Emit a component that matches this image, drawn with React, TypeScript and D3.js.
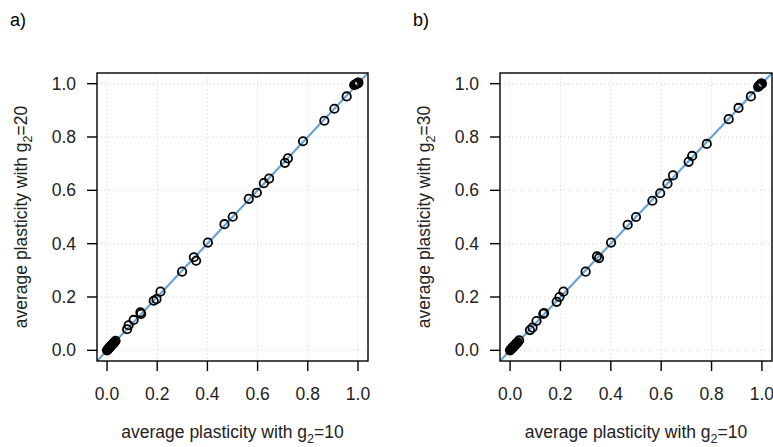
import React from "react";
import * as d3 from "d3";

const ticks = [0, 0.2, 0.4, 0.6, 0.8, 1.0];
const tickLabels = ["0.0", "0.2", "0.4", "0.6", "0.8", "1.0"];

// Panel a: x = avg plasticity g2=10, y = avg plasticity g2=20
const aX = [0, 0.002, 0.004, 0.006, 0.008, 0.01, 0.012, 0.014, 0.017, 0.02, 0.023, 0.026, 0.03, 0.034,
  0.08, 0.086, 0.106, 0.133, 0.136, 0.186, 0.197, 0.213, 0.299, 0.346, 0.355, 0.402, 0.468, 0.501,
  0.565, 0.597, 0.625, 0.646, 0.709, 0.721, 0.781, 0.866, 0.906, 0.955,
  0.985, 0.99, 0.993, 0.996, 0.998, 1.0, 1.002];
const aY = [0, 0.002, 0.004, 0.006, 0.009, 0.011, 0.013, 0.015, 0.018, 0.021, 0.024, 0.027, 0.031, 0.036,
  0.079, 0.094, 0.114, 0.142, 0.137, 0.186, 0.192, 0.22, 0.295, 0.349, 0.336, 0.404, 0.473, 0.501,
  0.568, 0.591, 0.627, 0.644, 0.703, 0.72, 0.784, 0.861, 0.906, 0.952,
  0.995, 0.997, 0.998, 1.0, 1.001, 1.003, 1.004];

// Panel b: x = avg plasticity g2=10, y = avg plasticity g2=30
const bX = [0, 0.002, 0.004, 0.006, 0.008, 0.01, 0.012, 0.014, 0.017, 0.02, 0.023, 0.026, 0.03, 0.036,
  0.079, 0.089, 0.105, 0.132, 0.135, 0.185, 0.196, 0.212, 0.3, 0.345, 0.353, 0.401, 0.467, 0.5,
  0.565, 0.596, 0.625, 0.647, 0.709, 0.723, 0.781, 0.868, 0.907, 0.956,
  0.985, 0.988, 0.992, 0.995, 0.998, 1.0];
const bY = [0, 0.002, 0.004, 0.006, 0.008, 0.01, 0.012, 0.014, 0.017, 0.02, 0.023, 0.026, 0.03, 0.037,
  0.076, 0.085, 0.11, 0.137, 0.14, 0.182, 0.2, 0.22, 0.295, 0.352, 0.346, 0.404, 0.471, 0.5,
  0.561, 0.589, 0.625, 0.656, 0.707, 0.729, 0.774, 0.867, 0.909, 0.952,
  0.988, 0.992, 0.995, 0.998, 1.0, 1.0];

const FONT = "'Liberation Sans', Arial, Helvetica, sans-serif";

type PanelProps = {
  left: number; right: number; top: number; bottom: number;
  xs: number[]; ys: number[]; letter: string; letterX: number; yLabelN: string; yTitleX: number;
  id: string;
};

function Panel({ left, right, top, bottom, xs, ys, letter, letterX, yLabelN, yTitleX, id }: PanelProps) {
  const x = d3.scaleLinear().domain([-0.04, 1.04]).range([left, right]);
  const y = d3.scaleLinear().domain([-0.04, 1.04]).range([bottom, top]);
  const line = d3.line<number>().x((d) => x(d)).y((d) => y(d));
  const tickLen = 10;
  const cx = (left + right) / 2;
  const cy = (top + bottom) / 2;
  return (
    <g>
      <defs>
        <clipPath id={id}>
          <rect x={left} y={top} width={right - left} height={bottom - top} />
        </clipPath>
      </defs>
      <text x={letterX} y={26} fontSize={18} fontFamily={FONT}>{letter}</text>
      {/* grid */}
      {ticks.map((t, i) => (
        <g key={"g" + i}>
          <line x1={x(t)} x2={x(t)} y1={top} y2={bottom} stroke="#d3d3d3" strokeWidth={1} strokeDasharray="1,3" />
          <line x1={left} x2={right} y1={y(t)} y2={y(t)} stroke="#d3d3d3" strokeWidth={1} strokeDasharray="1,3" />
        </g>
      ))}
      {/* diagonal */}
      <path d={line([-0.04, 1.04]) || ""} stroke="#68a4d2" strokeWidth={2.2} fill="none" clipPath={`url(#${id})`} />
      {/* points */}
      {xs.map((v, i) => (
        <circle key={"p" + i} cx={x(v)} cy={y(ys[i])} r={4.2} fill="none" stroke="#000" strokeWidth={1.8} />
      ))}
      {/* box */}
      <rect x={left} y={top} width={right - left} height={bottom - top} fill="none" stroke="#000" strokeWidth={1.4} />
      {/* x axis */}
      {ticks.map((t, i) => (
        <g key={"xt" + i}>
          <line x1={x(t)} x2={x(t)} y1={bottom} y2={bottom + tickLen} stroke="#000" strokeWidth={1.4} />
          <text x={x(t)} y={400} textAnchor="middle" fontSize={17.5} fontFamily={FONT} fill="#222">{tickLabels[i]}</text>
        </g>
      ))}
      {/* y axis */}
      {ticks.map((t, i) => (
        <g key={"yt" + i}>
          <line x1={left - tickLen} x2={left} y1={y(t)} y2={y(t)} stroke="#000" strokeWidth={1.4} />
          <text x={left - 21} y={y(t)} dy="0.35em" textAnchor="end" fontSize={17.5} fontFamily={FONT} fill="#222">{tickLabels[i]}</text>
        </g>
      ))}
      <text x={cx} y={438} textAnchor="middle" fontSize={17.5} fontFamily={FONT} fill="#222">
        average plasticity with g<tspan fontSize={12.5} dy={5}>2</tspan><tspan dy={-5}>=10</tspan>
      </text>
      <text transform={`translate(${yTitleX},${cy}) rotate(-90)`} textAnchor="middle" fontSize={17.5} fontFamily={FONT} fill="#222">
        average plasticity with g<tspan fontSize={12.5} dy={5}>2</tspan><tspan dy={-5}>={yLabelN}</tspan>
      </text>
    </g>
  );
}

export default function App() {
  return (
    <svg width={773} height={447} style={{ position: "absolute", left: 0, top: 0, background: "#fff" }}>
      <rect width={773} height={447} fill="#fff" />
      <Panel id="clipA" left={97} right={368} top={73} bottom={361} xs={aX} ys={aY} letter="a)" letterX={10} yLabelN="20" yTitleX={27} />
      <Panel id="clipB" left={500} right={772} top={73} bottom={361} xs={bX} ys={bY} letter="b)" letterX={413} yLabelN="30" yTitleX={430} />
    </svg>
  );
}
